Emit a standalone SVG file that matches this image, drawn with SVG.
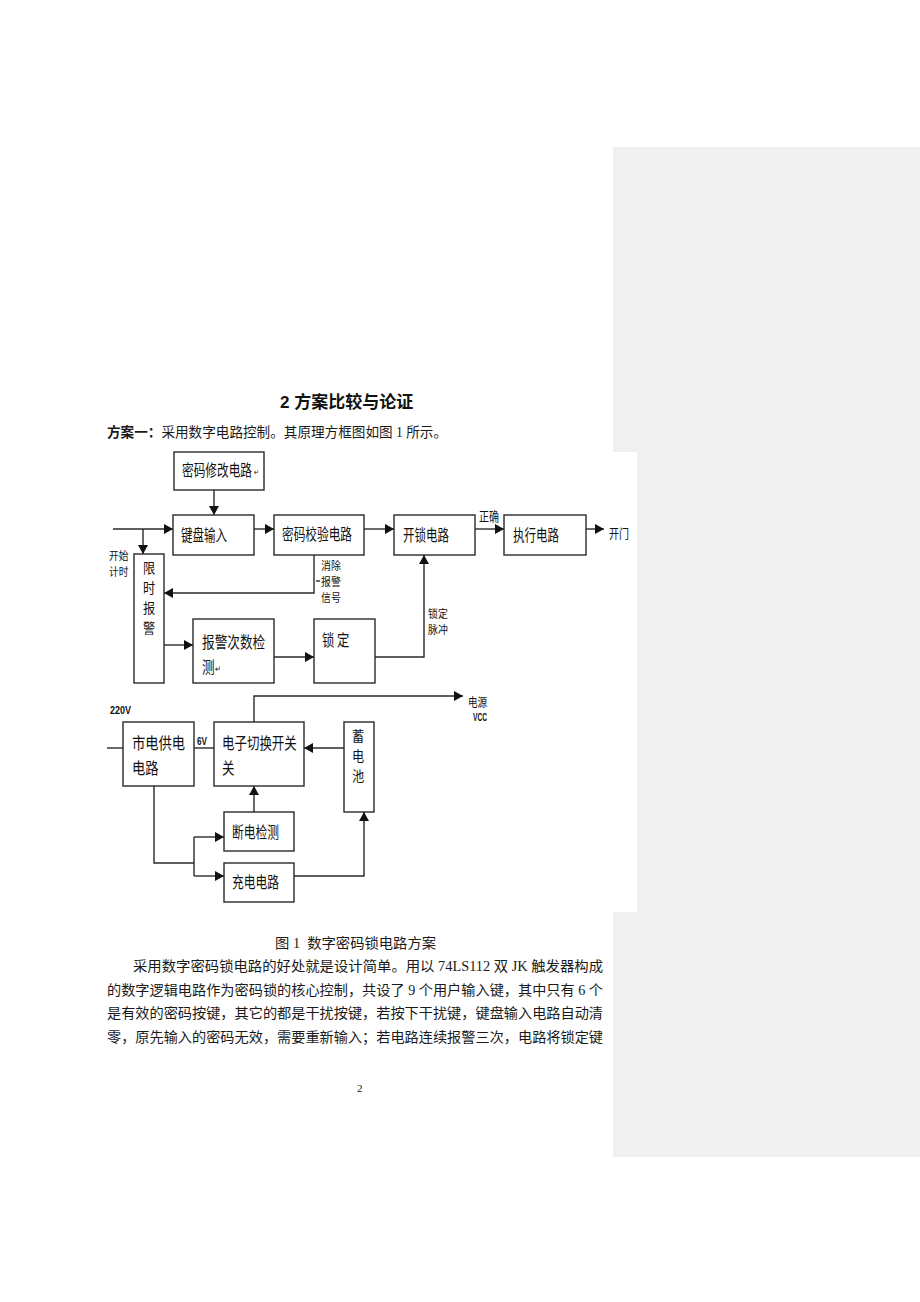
<svg xmlns="http://www.w3.org/2000/svg" width="920" height="1302" viewBox="0 0 920 1302">
<style>
.box{fill:#fff;stroke:#2a2a2a;stroke-width:1.4}
.ln{fill:none;stroke:#2a2a2a;stroke-width:1.4}
.lb{font-family:"Noto Sans CJK SC","Noto Sans CJK TC",sans-serif;font-size:16px;fill:#111}
.sm{font-size:13px}
.xs{font-size:11px}
.x12{font-size:12px}
.vt{font-size:13.5px}
.lat{font-family:"Liberation Sans",sans-serif;font-size:10px;font-weight:bold;fill:#111}
.body{font-family:"Liberation Serif","Noto Sans CJK SC",serif;font-size:14px;fill:#1a1a1a}
.pn{font-size:11px}
.head{font-family:"Liberation Sans","Noto Sans CJK SC",sans-serif;font-size:17px;font-weight:bold;fill:#111}
</style>
<defs>
<marker id="ah" viewBox="0 0 9 10" refX="9" refY="5" markerWidth="9" markerHeight="10" markerUnits="userSpaceOnUse" orient="auto"><path d="M0,0 L9,5 L0,10 z" fill="#111"/></marker>
</defs>
<rect width="920" height="1302" fill="#fff"/>
<rect x="613" y="147" width="307" height="1010" fill="#f0f0f0"/>
<rect x="100" y="452" width="537" height="460" fill="#fff"/>

<g id="page-text">
<text class="head" x="280" y="408">2 方案比较与论证</text>
<text class="body" x="107" y="437" textLength="340" lengthAdjust="spacingAndGlyphs"><tspan font-weight="bold">方案一：</tspan>采用数字电路控制。其原理方框图如图 1 所示。</text>
<text class="body" x="275" y="948" textLength="161" lengthAdjust="spacingAndGlyphs" xml:space="preserve">图 1  数字密码锁电路方案</text>
<text class="body" x="133" y="971" textLength="470" lengthAdjust="spacingAndGlyphs">采用数字密码锁电路的好处就是设计简单。用以 74LS112 双 JK 触发器构成</text>
<text class="body" x="107" y="995" textLength="496" lengthAdjust="spacingAndGlyphs">的数字逻辑电路作为密码锁的核心控制，共设了 9 个用户输入键，其中只有 6 个</text>
<text class="body" x="107" y="1018" textLength="496" lengthAdjust="spacingAndGlyphs">是有效的密码按键，其它的都是干扰按键，若按下干扰键，键盘输入电路自动清</text>
<text class="body" x="107" y="1042" textLength="496" lengthAdjust="spacingAndGlyphs">零，原先输入的密码无效，需要重新输入；若电路连续报警三次，电路将锁定键</text>
<text class="body pn" x="357" y="1092">2</text>
</g>

<g id="connectors">
<line class="ln" x1="214" y1="490" x2="214" y2="515" marker-end="url(#ah)"/>
<line class="ln" x1="113" y1="529" x2="173" y2="529" marker-end="url(#ah)"/>
<line class="ln" x1="143" y1="529" x2="143" y2="554" marker-end="url(#ah)"/>
<line class="ln" x1="254" y1="529" x2="274" y2="529" marker-end="url(#ah)"/>
<line class="ln" x1="364" y1="529" x2="394" y2="529" marker-end="url(#ah)"/>
<line class="ln" x1="475" y1="529" x2="504" y2="529" marker-end="url(#ah)"/>
<line class="ln" x1="586" y1="529" x2="604" y2="529" marker-end="url(#ah)"/>
<polyline class="ln" points="314,555 314,593 164,593" marker-end="url(#ah)"/>
<line class="ln" x1="316" y1="581" x2="320" y2="581"/>
<line class="ln" x1="164" y1="645" x2="193" y2="645" marker-end="url(#ah)"/>
<line class="ln" x1="274" y1="657" x2="314" y2="657" marker-end="url(#ah)"/>
<polyline class="ln" points="375,657 424,657 424,555" marker-end="url(#ah)"/>
<line class="ln" x1="107" y1="748" x2="123" y2="748"/>
<line class="ln" x1="194" y1="748" x2="214" y2="748"/>
<polyline class="ln" points="254,722 254,696 463,696" marker-end="url(#ah)"/>
<line class="ln" x1="344" y1="748" x2="304" y2="748" marker-end="url(#ah)"/>
<polyline class="ln" points="154,786 154,863 194,863"/>
<line class="ln" x1="194" y1="837" x2="194" y2="876"/>
<line class="ln" x1="194" y1="837" x2="224" y2="837" marker-end="url(#ah)"/>
<line class="ln" x1="194" y1="876" x2="224" y2="876" marker-end="url(#ah)"/>
<line class="ln" x1="254" y1="812" x2="254" y2="786" marker-end="url(#ah)"/>
<polyline class="ln" points="294,876 364,876 364,812" marker-end="url(#ah)"/>
</g>

<g id="edge-labels">
<text class="lb sm" x="479" y="521" textLength="20" lengthAdjust="spacingAndGlyphs">正确</text>
<text class="lb sm" x="609" y="538" textLength="20" lengthAdjust="spacingAndGlyphs">开门</text>
<text class="lb xs" transform="translate(109,0) scale(0.88,1)"><tspan x="0" y="560">开始</tspan><tspan x="0" y="576">计时</tspan></text>
<text class="lb xs" transform="translate(321,0) scale(0.9,1)"><tspan x="0" y="570">消除</tspan><tspan x="0" y="586">报警</tspan><tspan x="0" y="602">信号</tspan></text>
<text class="lb xs" transform="translate(428,0) scale(0.9,1)"><tspan x="0" y="618">锁定</tspan><tspan x="0" y="634">脉冲</tspan></text>
<text class="lat" x="110" y="714" textLength="21" lengthAdjust="spacingAndGlyphs">220V</text>
<text class="lat" x="197" y="745" textLength="10" lengthAdjust="spacingAndGlyphs">6V</text>
<text class="lb x12" transform="translate(468,707) scale(0.8,1)">电源</text>
<text class="lat" x="473" y="721" textLength="14" lengthAdjust="spacingAndGlyphs">VCC</text>
</g>

<g id="n-mima-xiugai">
<rect class="box" x="174" y="452" width="90" height="38"/>
<text class="lb" transform="translate(182,476) scale(0.73,1)">密码修改电路<tspan dx="2" dy="-1" font-size="8">↵</tspan></text>
</g>
<g id="n-jianpan">
<rect class="box" x="173" y="515" width="81" height="40"/>
<text class="lb" x="181" y="541" textLength="46" lengthAdjust="spacingAndGlyphs">键盘输入</text>
</g>
<g id="n-jiaoyan">
<rect class="box" x="274" y="515" width="90" height="40"/>
<text class="lb" x="282" y="540" textLength="70" lengthAdjust="spacingAndGlyphs">密码校验电路</text>
</g>
<g id="n-kaisuo">
<rect class="box" x="394" y="515" width="81" height="40"/>
<text class="lb" x="403" y="541" textLength="46" lengthAdjust="spacingAndGlyphs">开锁电路</text>
</g>
<g id="n-zhixing">
<rect class="box" x="504" y="515" width="82" height="40"/>
<text class="lb" x="513" y="541" textLength="46" lengthAdjust="spacingAndGlyphs">执行电路</text>
</g>
<g id="n-xianshi">
<rect class="box" x="134" y="554" width="30" height="129"/>
<text class="lb vt" text-anchor="middle" transform="translate(149,0) scale(0.9,1)"><tspan x="0" y="573">限</tspan><tspan x="0" y="593">时</tspan><tspan x="0" y="613">报</tspan><tspan x="0" y="633">警</tspan></text>
</g>
<g id="n-cishu">
<rect class="box" x="193" y="619" width="81" height="64"/>
<text class="lb" transform="translate(202,0) scale(0.79,1)"><tspan x="0" y="648">报警次数检</tspan><tspan x="0" y="673">测</tspan><tspan dx="1" dy="-1" font-size="9">↵</tspan></text>
</g>
<g id="n-suoding">
<rect class="box" x="314" y="619" width="61" height="64"/>
<text class="lb" transform="translate(322,646) scale(0.77,1)" xml:space="preserve">锁 定</text>
</g>
<g id="n-shidian">
<rect class="box" x="123" y="722" width="71" height="64"/>
<text class="lb" transform="translate(132,0) scale(0.83,1)"><tspan x="0" y="749">市电供电</tspan><tspan x="0" y="774">电路</tspan></text>
</g>
<g id="n-qiehuan">
<rect class="box" x="214" y="722" width="90" height="64"/>
<text class="lb" transform="translate(222,0) scale(0.78,1)"><tspan x="0" y="749">电子切换开关</tspan><tspan x="0" y="774">关</tspan></text>
</g>
<g id="n-xudianchi">
<rect class="box" x="344" y="722" width="30" height="90"/>
<text class="lb vt" text-anchor="middle" transform="translate(358,0) scale(0.9,1)"><tspan x="0" y="741">蓄</tspan><tspan x="0" y="761">电</tspan><tspan x="0" y="781">池</tspan></text>
</g>
<g id="n-duandian">
<rect class="box" x="224" y="812" width="70" height="39"/>
<text class="lb" x="232" y="838" textLength="47" lengthAdjust="spacingAndGlyphs">断电检测</text>
</g>
<g id="n-chongdian">
<rect class="box" x="224" y="863" width="70" height="39"/>
<text class="lb" x="232" y="888" textLength="47" lengthAdjust="spacingAndGlyphs">充电电路</text>
</g>
</svg>
